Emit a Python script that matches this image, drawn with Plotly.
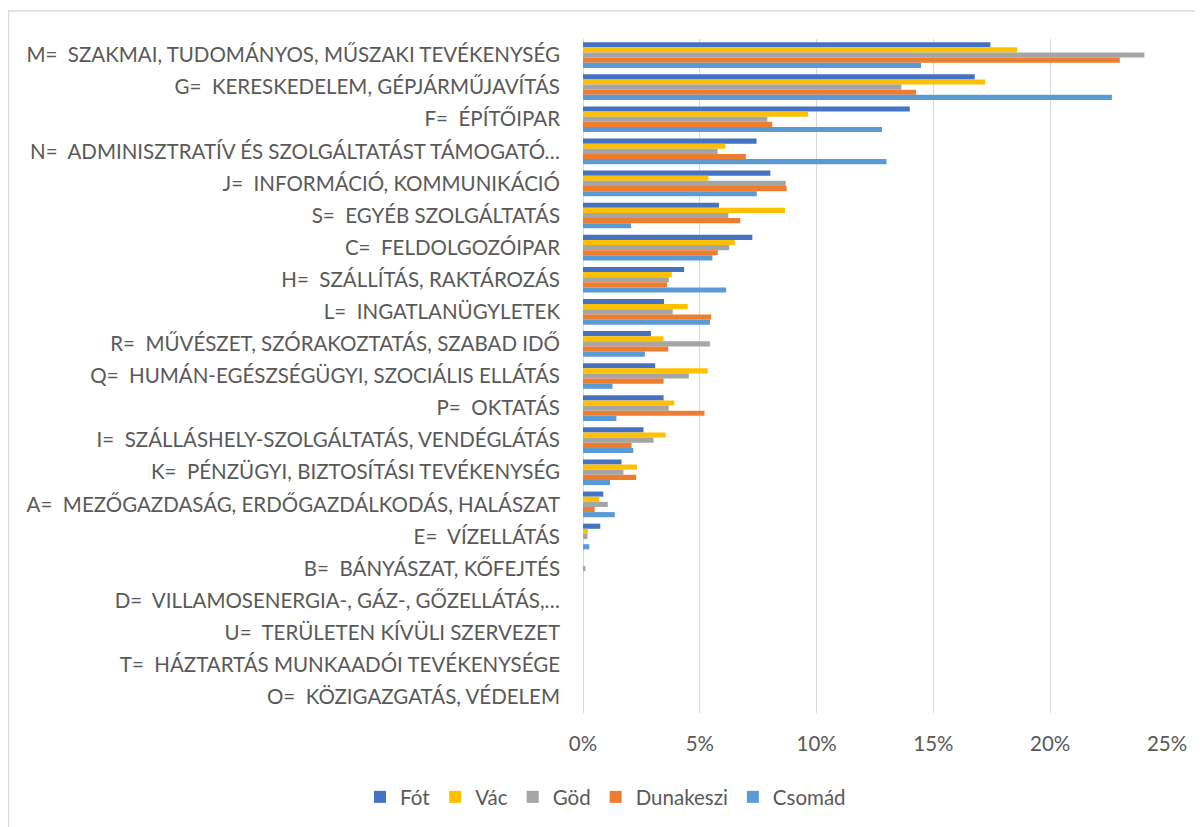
import plotly.graph_objects as go

categories = [
    "M=  SZAKMAI, TUDOMÁNYOS, MŰSZAKI TEVÉKENYSÉG",
    "G=  KERESKEDELEM, GÉPJÁRMŰJAVÍTÁS",
    "F=  ÉPÍTŐIPAR",
    "N=  ADMINISZTRATÍV ÉS SZOLGÁLTATÁST TÁMOGATÓ…",
    "J=  INFORMÁCIÓ, KOMMUNIKÁCIÓ",
    "S=  EGYÉB SZOLGÁLTATÁS",
    "C=  FELDOLGOZÓIPAR",
    "H=  SZÁLLÍTÁS, RAKTÁROZÁS",
    "L=  INGATLANÜGYLETEK",
    "R=  MŰVÉSZET, SZÓRAKOZTATÁS, SZABAD IDŐ",
    "Q=  HUMÁN-EGÉSZSÉGÜGYI, SZOCIÁLIS ELLÁTÁS",
    "P=  OKTATÁS",
    "I=  SZÁLLÁSHELY-SZOLGÁLTATÁS, VENDÉGLÁTÁS",
    "K=  PÉNZÜGYI, BIZTOSÍTÁSI TEVÉKENYSÉG",
    "A=  MEZŐGAZDASÁG, ERDŐGAZDÁLKODÁS, HALÁSZAT",
    "E=  VÍZELLÁTÁS",
    "B=  BÁNYÁSZAT, KŐFEJTÉS",
    "D=  VILLAMOSENERGIA-, GÁZ-, GŐZELLÁTÁS,…",
    "U=  TERÜLETEN KÍVÜLI SZERVEZET",
    "T=  HÁZTARTÁS MUNKAADÓI TEVÉKENYSÉGE",
    "O=  KÖZIGAZGATÁS, VÉDELEM",
]

fot = [17.44, 16.77, 13.99, 7.43, 8.02, 5.82, 7.25, 4.33, 3.47, 2.91, 3.09, 3.45, 2.59, 1.65, 0.87, 0.74, 0, 0, 0, 0, 0]
vac = [18.59, 17.22, 9.63, 6.09, 5.37, 8.65, 6.50, 3.80, 4.48, 3.45, 5.34, 3.91, 3.54, 2.31, 0.70, 0.21, 0, 0, 0, 0, 0]
god = [24.03, 13.63, 7.89, 5.76, 8.68, 6.22, 6.26, 3.67, 3.84, 5.43, 4.53, 3.67, 3.02, 1.73, 1.06, 0.19, 0.10, 0, 0, 0, 0]
dunakeszi = [22.98, 14.26, 8.10, 6.97, 8.72, 6.73, 5.77, 3.60, 5.49, 3.65, 3.45, 5.20, 2.08, 2.28, 0.50, 0, 0, 0, 0, 0, 0]
csomad = [14.47, 22.64, 12.80, 12.99, 7.44, 2.06, 5.54, 6.13, 5.44, 2.65, 1.26, 1.43, 2.15, 1.16, 1.36, 0.27, 0, 0, 0, 0, 0]

series = [
    ("Fót", fot, "#4472C4"),
    ("Vác", vac, "#FFC000"),
    ("Göd", god, "#A5A5A5"),
    ("Dunakeszi", dunakeszi, "#ED7D31"),
    ("Csomád", csomad, "#5B9BD5"),
]

FONT = "Lato"
labels = [c.replace("  ", "\u00a0\u00a0") for c in categories]

fig = go.Figure()
for name, vals, color in series:
    fig.add_trace(go.Bar(
        y=labels, x=[v / 100 for v in vals], name=name, orientation="h",
        marker=dict(color=color, line=dict(width=0)),
    ))

fig.update_layout(
    width=1195, height=819,
    barmode="group", bargap=0.2, bargroupgap=0,
    plot_bgcolor="white", paper_bgcolor="white",
    margin=dict(l=575, r=36, t=31, b=114),
    font=dict(family=FONT, color="#595959", size=20.5),
    xaxis=dict(
        range=[0, 0.25], tickvals=[0, 0.05, 0.10, 0.15, 0.20, 0.25],
        tickformat=".0%", showgrid=True, gridcolor="#D9D9D9", gridwidth=1,
        zeroline=True, zerolinecolor="#D9D9D9", zerolinewidth=1,
        showline=False, ticks="", ticklabelstandoff=16,
        tickfont=dict(size=20.5, color="#595959"), fixedrange=True,
    ),
    yaxis=dict(
        autorange="reversed", showgrid=False, showline=False, ticks="",
        ticklabelstandoff=22, tickfont=dict(size=20.5, color="#595959"),
        type="category",
    ),
    showlegend=True,
    legend=dict(
        orientation="h", xref="container", yref="container",
        x=0.5, xanchor="center", y=0.0366, yanchor="middle",
        font=dict(size=20.5, color="#595959"), traceorder="normal",
        itemwidth=30,
    ),
    shapes=[dict(
        type="rect", xref="paper", yref="paper",
        x0=-0.9837, x1=1.2, y0=-0.4, y1=1.0415,
        line=dict(color="#D9D9D9", width=1.5), fillcolor="rgba(0,0,0,0)",
        layer="below",
    )],
)

fig.write_html("out.html")
